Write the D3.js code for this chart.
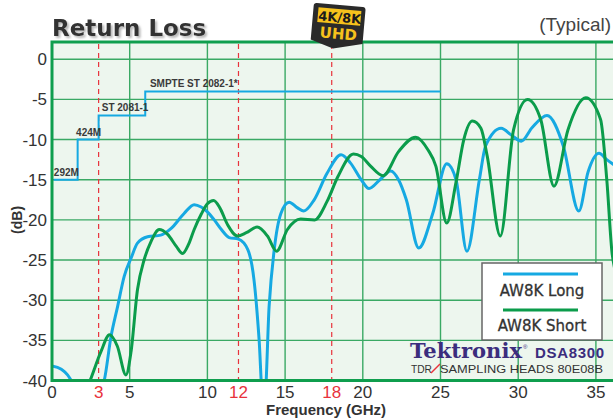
<!DOCTYPE html>
<html>
<head>
<meta charset="utf-8">
<script src="https://cdn.jsdelivr.net/npm/d3@7"></script>
<style>
  body { margin: 0; background: #fff; }
  svg { display: block; }
</style>
</head>
<body>
<div id="app"></div>
<script>
// series: [GHz, dB]
const longFreq = [0, 0.6, 1.0, 1.3, 1.8, 2.5, 3.0, 3.36, 3.8, 4.22, 4.65, 5.08, 5.5, 6.15, 7.0, 7.65, 8.5, 9.15, 9.6, 10.0,
  10.44, 10.9, 11.4, 12.0, 12.6, 13.0, 13.33, 13.55, 13.7, 13.97, 14.3, 14.73, 15.26, 15.8, 16.2, 16.87, 17.7, 18.6, 19.2,
  19.9, 20.4, 21.1, 21.8, 22.3, 22.8, 23.6, 24.5, 25.4, 26.0, 26.7, 27.5, 27.9, 28.9, 29.6, 30.2, 30.9, 31.85, 32.9, 33.9,
  34.5, 35.2, 35.7, 36.2];
const longDb = [-38.2, -38.6, -39.3, -40.2, -41.5, -42, -41.5, -40, -34.5, -30.8, -27, -24.8, -22.9, -22.1, -21.9, -21.1,
  -19.2, -18.1, -18.4, -19.0, -20, -21.2, -22.2, -22.4, -23.7, -27.5, -35, -42, -42, -30.8, -23.7, -19.2, -17.8, -18.5,
  -18.9, -17.5, -14.2, -11.9, -12.9, -15, -16.1, -15, -13.9, -15, -17.5, -23.5, -19.2, -13, -15, -23.9, -15, -10.8, -8.6,
  -9.5, -10.2, -8.5, -7.0, -10.8, -18.9, -14, -11.7, -12.5, -13.2];

const shortFreq = [2.0, 2.45, 3.15, 3.7, 4.2, 4.76, 5.08, 5.5, 5.94, 6.37, 6.9, 7.44, 8.0, 8.4, 8.8, 9.15, 9.6, 10.0, 10.4,
  10.8, 11.3, 11.94, 12.5, 13.2, 13.86, 14.45, 15.15, 16.0, 16.9, 17.7, 18.4, 19.4, 19.9, 20.5, 21.3, 22.3, 23.4, 24.2,
  24.7, 25.4, 26.0, 26.5, 27.05, 27.6, 28.0, 28.85, 29.7, 30.6, 31.45, 32.3, 33.2, 34.35, 35.3, 35.7, 36.05, 36.2];
const shortDb = [-42, -40, -36.4, -34.3, -35.7, -39.3, -36.5, -28.7, -24.9, -22.7, -21.2, -21.8, -23.3, -24.2, -23, -21.2,
  -19.3, -18, -17.6, -18.5, -20.6, -22, -21.6, -20.9, -22, -23.9, -21.2, -19.9, -20, -17.7, -14.6, -11.8, -12.1, -13.3,
  -14.5, -11.5, -9.7, -11.3, -13.3, -20.4, -15.3, -10, -7.7, -8.6, -12, -22, -8.8, -5.0, -7.5, -15.8, -8.8, -4.8, -7.5,
  -15, -24.3, -26];

// SMPTE mask steps
const maskFreq = [0.1, 1.65, 1.65, 3, 3, 6, 6, 25];
const maskDb = [-15, -15, -10, -10, -7, -7, -4, -4];
const maskLabels = ['292M', '424M', 'ST 2081-1', 'SMPTE ST 2082-1*'];
const maskLabelAt = [[0.12, -15], [1.55, -10], [3.2, -7], [6.3, -4]];

const xTicks = [0, 5, 10, 15, 20, 25, 30, 35];
const yTicks = [0, -5, -10, -15, -20, -25, -30, -35, -40];
const markerFreq = [3, 12, 18];

const legendNames = ['AW8K Long', 'AW8K Short'];

const W = 613;
const H = 420;
const blue = '#16a9e2';
const green = '#0b9c4b';
const gridColor = '#3aa964';
const red = '#e8323c';
const narrow = '"Liberation Sans Narrow", "Arial Narrow", "Liberation Sans", Arial, sans-serif';

const x = d3.scaleLinear().domain([0, 36.1]).range([52, 613]);
const y = d3.scaleLinear().domain([-40, 2.15]).range([380.5, 42]);

const svg = d3.select('#app')
  .append('svg')
  .attr('width', W)
  .attr('height', H);

const [x0, x1] = x.range();
const [yb, yt] = y.range();

const defs = svg.append('defs');
defs.append('clipPath')
  .attr('id', 'clip')
  .append('rect')
  .attr('x', x0).attr('y', yt)
  .attr('width', x1 - x0).attr('height', yb - yt);

// soft shadow for the title
defs.append('filter')
  .attr('id', 'shadow')
  .attr('x', '-10%').attr('y', '-20%')
  .attr('width', '130%').attr('height', '150%')
  .append('feDropShadow')
  .attr('dx', 2).attr('dy', 2)
  .attr('stdDeviation', 0.8)
  .attr('flood-color', '#999')
  .attr('flood-opacity', 0.7);

// plot background
svg.append('rect')
  .attr('x', x0).attr('y', yt)
  .attr('width', x1 - x0).attr('height', yb - yt)
  .attr('fill', '#edf6ee');

// grid
svg.append('g')
  .selectAll('line')
  .data(xTicks.filter(d => d > 0))
  .join('line')
  .attr('x1', d => x(d)).attr('x2', d => x(d))
  .attr('y1', yt).attr('y2', yb)
  .attr('stroke', gridColor)
  .attr('stroke-width', 1.4);

svg.append('g')
  .selectAll('line')
  .data(yTicks.filter(d => d > -40))
  .join('line')
  .attr('x1', x0).attr('x2', x1)
  .attr('y1', d => y(d)).attr('y2', d => y(d))
  .attr('stroke', gridColor)
  .attr('stroke-width', 1.4);

// red dashed markers
svg.append('g')
  .selectAll('line')
  .data(markerFreq)
  .join('line')
  .attr('x1', d => x(d)).attr('x2', d => x(d))
  .attr('y1', yt + 2).attr('y2', yb)
  .attr('stroke', red)
  .attr('stroke-width', 1.2)
  .attr('stroke-dasharray', '5,4');

// mask step line
const maskPts = maskFreq.map((f, i) => [f, maskDb[i]]);
svg.append('path')
  .datum(maskPts)
  .attr('fill', 'none')
  .attr('stroke', blue)
  .attr('stroke-width', 2)
  .attr('d', d3.line().x(d => x(d[0])).y(d => y(d[1])));

svg.append('g')
  .selectAll('text')
  .data(maskLabels)
  .join('text')
  .attr('x', (d, i) => x(maskLabelAt[i][0]))
  .attr('y', (d, i) => y(maskLabelAt[i][1]) - 4)
  .attr('font-family', narrow)
  .attr('font-weight', 'bold')
  .attr('font-size', 10)
  .attr('fill', '#3a3a3a')
  .text(d => d);

// curves
const line = d3.line()
  .x(d => x(d[0]))
  .y(d => y(d[1]))
  .curve(d3.curveMonotoneX);

const curves = svg.append('g').attr('clip-path', 'url(#clip)');
curves.append('path')
  .datum(longFreq.map((f, i) => [f, longDb[i]]))
  .attr('fill', 'none')
  .attr('stroke', blue)
  .attr('stroke-width', 3)
  .attr('d', line);
curves.append('path')
  .datum(shortFreq.map((f, i) => [f, shortDb[i]]))
  .attr('fill', 'none')
  .attr('stroke', green)
  .attr('stroke-width', 3)
  .attr('d', line);

// plot frame (left, top, bottom)
svg.append('path')
  .attr('d', `M${x1},${yt}H${x0}V${yb}H${x1}`)
  .attr('fill', 'none')
  .attr('stroke', '#0f9e4e')
  .attr('stroke-width', 3);

// tick labels
svg.append('g')
  .selectAll('text')
  .data(yTicks)
  .join('text')
  .attr('x', x0 - 5)
  .attr('y', d => y(d) + 6)
  .attr('text-anchor', 'end')
  .attr('font-family', narrow)
  .attr('font-size', 17)
  .attr('fill', '#333')
  .text(d => d);

const xLabelTicks = xTicks.concat(markerFreq);
svg.append('g')
  .selectAll('text')
  .data(xLabelTicks)
  .join('text')
  .attr('x', d => x(d))
  .attr('y', 398)
  .attr('text-anchor', 'middle')
  .attr('font-family', narrow)
  .attr('font-size', 17)
  .attr('fill', d => (markerFreq.includes(d) ? red : '#333'))
  .text(d => d);

// axis titles
svg.append('text')
  .attr('transform', `translate(22,${y(-20)}) rotate(-90)`)
  .attr('text-anchor', 'middle')
  .attr('font-family', 'Liberation Sans, Arial, sans-serif')
  .attr('font-weight', 'bold')
  .attr('font-size', 14)
  .attr('fill', '#333')
  .text('(dB)');

svg.append('text')
  .attr('x', 326)
  .attr('y', 415)
  .attr('text-anchor', 'middle')
  .attr('font-family', 'Liberation Sans, Arial, sans-serif')
  .attr('font-weight', 'bold')
  .attr('font-size', 15)
  .attr('fill', '#333')
  .text('Frequency (GHz)');

// title
svg.append('text')
  .attr('x', 52).attr('y', 36)
  .attr('font-family', '"DejaVu Sans", Verdana, sans-serif')
  .attr('font-weight', 'bold')
  .attr('font-size', 23)
  .attr('fill', '#333')
  .attr('filter', 'url(#shadow)')
  .text('Return Loss');

svg.append('text')
  .attr('x', 611).attr('y', 31)
  .attr('text-anchor', 'end')
  .attr('font-family', 'Liberation Sans, Arial, sans-serif')
  .attr('font-size', 19)
  .attr('fill', '#444')
  .text('(Typical)');

// 4K/8K UHD badge
const badge = svg.append('g')
  .attr('transform', 'translate(339,26) rotate(5)');
badge.append('path')
  .attr('d', 'M-24,-21 Q-27,-21 -27,-18 L-27,16 L-4,23 L25,16 L25,-18 Q25,-21 22,-21 Z')
  .attr('fill', '#2a2a2a');
badge.append('rect')
  .attr('x', -22).attr('y', -17)
  .attr('width', 43).attr('height', 15)
  .attr('fill', '#f6c21c');
badge.append('text')
  .attr('x', 0).attr('y', -4)
  .attr('text-anchor', 'middle')
  .attr('font-family', '"DejaVu Sans", sans-serif')
  .attr('font-weight', 'bold')
  .attr('font-size', 13)
  .attr('fill', '#1b1b1b')
  .text('4K/8K');
badge.append('text')
  .attr('x', 0).attr('y', 13)
  .attr('text-anchor', 'middle')
  .attr('font-family', '"DejaVu Sans", sans-serif')
  .attr('font-weight', 'bold')
  .attr('font-size', 15)
  .attr('fill', '#f6c21c')
  .text('UHD');

// legend
const legend = svg.append('g');
legend.append('rect')
  .attr('x', 482).attr('y', 263)
  .attr('width', 120).attr('height', 77)
  .attr('fill', '#fff')
  .attr('stroke', '#666')
  .attr('stroke-width', 1.5);
[blue, green].forEach((c, i) => {
  legend.append('line')
    .attr('x1', 503).attr('x2', 578)
    .attr('y1', 274 + i * 36).attr('y2', 274 + i * 36)
    .attr('stroke', c)
    .attr('stroke-width', 3);
  legend.append('text')
    .attr('x', 542).attr('y', 296 + i * 35)
    .attr('text-anchor', 'middle')
    .attr('font-family', '"DejaVu Sans", Verdana, sans-serif')
    .attr('font-size', 15)
    .attr('fill', '#333')
    .attr('stroke', '#333')
    .attr('stroke-width', 0.3)
    .text(legendNames[i]);
});

// Tektronix branding
svg.append('text')
  .attr('x', 410).attr('y', 358)
  .attr('font-family', '"DejaVu Serif", "Liberation Serif", serif')
  .attr('font-weight', 'bold')
  .attr('font-size', 20)
  .attr('fill', '#3b2d7d')
  .attr('textLength', 112)
  .attr('lengthAdjust', 'spacingAndGlyphs')
  .text('Tektronix');
svg.append('text')
  .attr('x', 523).attr('y', 349)
  .attr('font-family', 'Liberation Sans, Arial, sans-serif')
  .attr('font-size', 6)
  .attr('fill', '#3b2d7d')
  .text('®');
svg.append('text')
  .attr('x', 535).attr('y', 358)
  .attr('font-family', 'Liberation Sans, Arial, sans-serif')
  .attr('font-weight', 'bold')
  .attr('font-size', 15)
  .attr('fill', '#3b2d7d')
  .attr('textLength', 69)
  .text('DSA8300');
svg.append('text')
  .attr('x', 411).attr('y', 373)
  .attr('font-family', narrow)
  .attr('font-size', 11)
  .attr('fill', '#333')
  .attr('textLength', 21)
  .attr('lengthAdjust', 'spacingAndGlyphs')
  .text('TDR');
svg.append('line')
  .attr('x1', 431).attr('y1', 373)
  .attr('x2', 440).attr('y2', 364)
  .attr('stroke', red)
  .attr('stroke-width', 1.5);
svg.append('text')
  .attr('x', 440).attr('y', 373)
  .attr('font-family', narrow)
  .attr('font-size', 11)
  .attr('fill', '#333')
  .attr('textLength', 163)
  .attr('lengthAdjust', 'spacingAndGlyphs')
  .text('SAMPLING HEADS 80E08B');
</script>
</body>
</html>
